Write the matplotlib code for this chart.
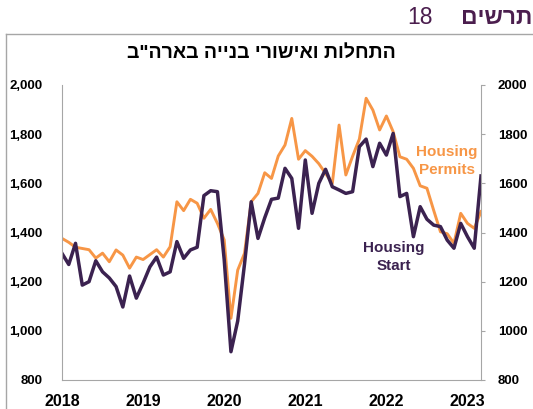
import numpy as np
import matplotlib
matplotlib.use("Agg")
import matplotlib.pyplot as plt

# monthly, Mar 2018 .. May 2023 (thousands, annual rate)
permits = [1376, 1360, 1340, 1335, 1330, 1296, 1316, 1281, 1329, 1308,
           1255, 1300, 1290, 1310, 1330, 1300, 1342, 1525, 1489, 1535,
           1519, 1458, 1494, 1437, 1370, 1051, 1247, 1315, 1525, 1559,
           1643, 1620, 1711, 1756, 1864, 1698, 1733, 1710, 1680, 1640,
           1600, 1837, 1634, 1710, 1780, 1946, 1898, 1817, 1874, 1810,
           1708, 1698, 1661, 1590, 1580, 1490, 1403, 1395, 1356, 1478,
           1437, 1417, 1485]
starts = [1315, 1270, 1356, 1186, 1200, 1285, 1240, 1215, 1180, 1097,
          1223, 1133, 1194, 1260, 1300, 1227, 1240, 1363, 1295, 1329,
          1340, 1550, 1570, 1566, 1290, 915, 1040, 1270, 1525, 1376,
          1460, 1535, 1540, 1661, 1620, 1417, 1695, 1478, 1600, 1657,
          1586, 1573, 1559, 1566, 1749, 1780, 1668, 1763, 1715, 1803,
          1546, 1559, 1383, 1505, 1454, 1430, 1424, 1369, 1336, 1437,
          1383, 1336, 1630]
years = ["2018", "2019", "2020", "2021", "2022", "2023"]
left_ticks = [800, 1000, 1200, 1400, 1600, 1800, 2000]

title = 'התחלות ואישורי בנייה בארה"ב'
fig_word = "תרשים"
fig_num = "18"

ORANGE = "#F79646"
PURPLE = "#3B2250"
GRAY = "#A6A6A6"
HEB = ["Liberation Sans", "DejaVu Sans"]

plt.rcParams["font.family"] = ["Liberation Sans", "DejaVu Sans"]


def fx(px):
    return px / 533


def fy(py):
    return 1 - py / 409


fig = plt.figure(figsize=(5.33, 4.09), dpi=100)
ax = fig.add_axes([62 / 533, 29 / 409, 419 / 533, 295 / 409])

x = np.arange(len(permits))
ax.plot(x, permits, color=ORANGE, lw=2.1, solid_joinstyle="round")
ax.plot(x, starts, color=PURPLE, lw=2.5, solid_joinstyle="round")

ax.set_xlim(0, 62)
ax.set_ylim(800, 2000)
ax.set_yticks(left_ticks)
ax.set_yticklabels([f"{v:,}" for v in left_ticks], fontsize=9.5, fontweight="bold")
ax.set_xticks([0, 12, 24, 36, 48, 60])
ax.set_xticklabels(years, fontsize=11.5, fontweight="bold")
ax.tick_params(axis="y", length=0, pad=14)
ax.tick_params(axis="x", length=0, pad=10)
for s in ["top", "right"]:
    ax.spines[s].set_visible(False)
for s in ["left", "bottom"]:
    ax.spines[s].set_color(GRAY)

ax2 = ax.twinx()
ax2.set_ylim(800, 2000)
ax2.set_yticks(left_ticks)
ax2.set_yticklabels([str(v) for v in left_ticks], fontsize=9.5, fontweight="bold")
ax2.tick_params(axis="y", length=3, color=GRAY, pad=9)
for s in ["top", "left", "bottom"]:
    ax2.spines[s].set_visible(False)
ax2.spines["right"].set_color(GRAY)

fig.text(fx(447), fy(161), "Housing\nPermits", color=ORANGE,
         fontsize=11, fontweight="bold", ha="center", va="center", linespacing=1.45)
fig.text(fx(394), fy(257), "Housing\nStart", color=PURPLE,
         fontsize=11, fontweight="bold", ha="center", va="center", linespacing=1.45)

# header and frame
fig.text(fx(261), fy(53), title[::-1], family=HEB, fontsize=14,
         fontweight="bold", ha="center", va="center")
fig.text(fx(532), fy(18), fig_word[::-1], family=HEB, fontsize=16.5,
         fontweight="bold", color="#4B1E4E", ha="right", va="center")
fig.text(fx(433), fy(18), fig_num, family=HEB, fontsize=16.5,
         color="#4B1E4E", ha="right", va="center")

fig.add_artist(plt.Line2D([fx(6), 1], [fy(33.5), fy(33.5)], color=GRAY, lw=1))
fig.add_artist(plt.Line2D([fx(6), fx(6)], [fy(33.5), 0], color=GRAY, lw=1))

fig.savefig("out.png", dpi=100)
